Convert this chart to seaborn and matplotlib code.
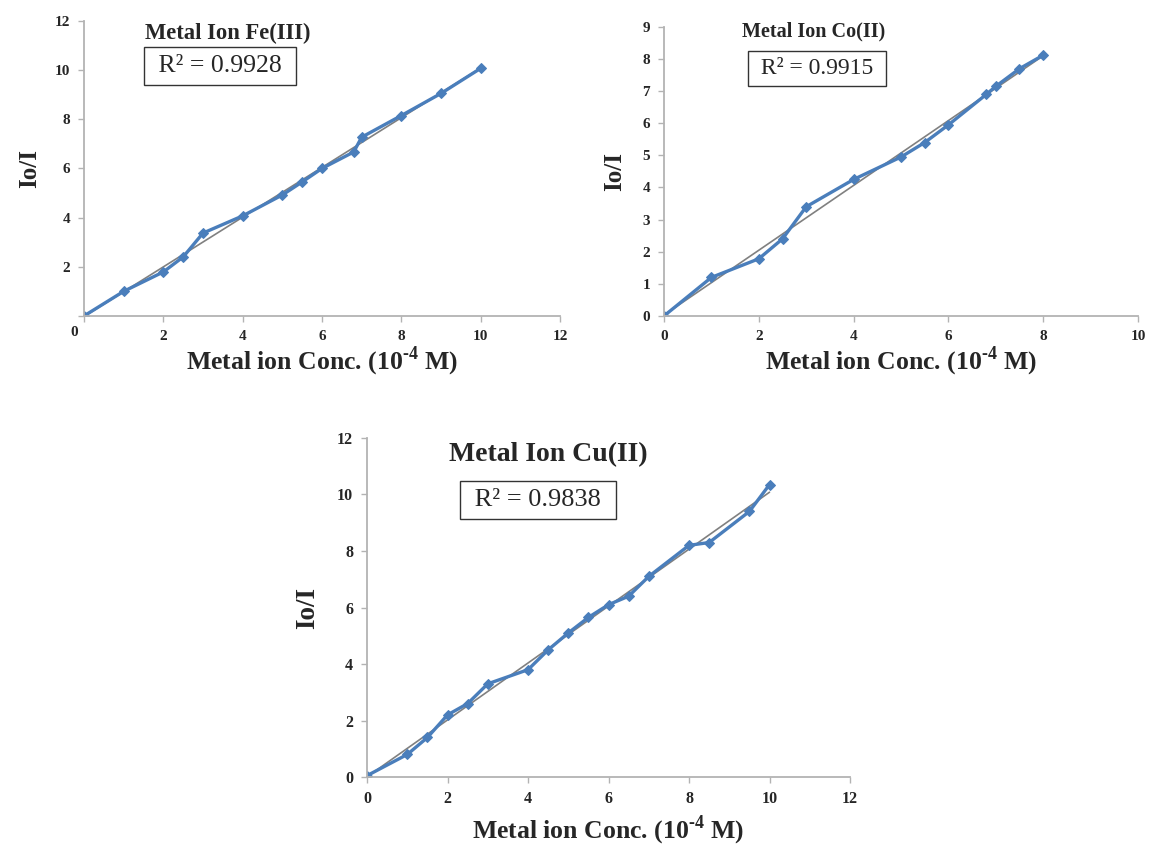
import numpy as np
import pandas as pd
import seaborn as sns
import matplotlib.pyplot as plt

# Fe(III)
fe_conc = [0, 1, 2, 2.5, 3, 4, 5, 5.5, 6, 6.8, 7, 8, 9, 10]
fe_ratio = [0, 1.0, 1.79, 2.4, 3.37, 4.07, 4.92, 5.45, 6.0, 6.67, 7.27, 8.15, 9.05, 10.07]
# Co(II)
co_conc = [0, 1, 2, 2.5, 3, 4, 5, 5.5, 6, 6.8, 7, 7.5, 8]
co_ratio = [0, 1.2, 1.78, 2.4, 3.4, 4.25, 4.95, 5.4, 5.95, 6.9, 7.15, 7.7, 8.12]
# Cu(II)
cu_conc = [0, 1, 1.5, 2, 2.5, 3, 4, 4.5, 5, 5.5, 6, 6.5, 7, 8, 8.5, 9.5, 10]
cu_ratio = [0.05, 0.8, 1.4, 2.2, 2.6, 3.3, 3.8, 4.5, 5.1, 5.65, 6.1, 6.4, 7.1, 8.2, 8.3, 9.4, 10.35]

titles = ["Metal Ion Fe(III)", "Metal Ion Co(II)", "Metal Ion Cu(II)"]
r2_labels = [" R\u00b2 = 0.9928 ", " R\u00b2 = 0.9915 ", " R\u00b2 = 0.9838 "]
x_label = "Metal ion Conc. (10$^{\\mathbf{\u2010 4}}$ M)"

sns.set_style("white")
plt.rcParams["font.family"] = ["Liberation Serif", "DejaVu Serif"]
plt.rcParams["mathtext.fontset"] = "custom"
plt.rcParams["mathtext.rm"] = "Liberation Serif"
plt.rcParams["mathtext.bf"] = "Liberation Serif:bold"

BLUE = "#4a7ebb"
AXIS_GRAY = "#b3b3b3"

fig = plt.figure(figsize=(11.51, 8.47), dpi=100)

panels = [
    dict(x=fe_conc, y=fe_ratio, rect=[0.073, 0.627, 0.4135, 0.3483], xlim=12, ylim=12,
         xstep=2, ystep=2, title_pos=(0.303, 0.959), box_pos=(0.286, 0.847), corner_zero=True,
         tick_fs=11, lab_fs=18.5, ylab_fs=18, title_fs=16.3, box_fs=18.5, xpad=1, ypad=10),
    dict(x=co_conc, y=co_ratio, rect=[0.5769, 0.627, 0.4118, 0.3412], xlim=10, ylim=9,
         xstep=2, ystep=1, title_pos=(0.315, 0.983), box_pos=(0.323, 0.855), corner_zero=False,
         tick_fs=11, lab_fs=18.5, ylab_fs=18, title_fs=14.5, box_fs=17, xpad=1, ypad=12),
    dict(x=cu_conc, y=cu_ratio, rect=[0.3189, 0.0826, 0.4196, 0.4003], xlim=12, ylim=12,
         xstep=2, ystep=2, title_pos=(0.375, 0.95), box_pos=(0.354, 0.817), corner_zero=False,
         tick_fs=11.5, lab_fs=18.5, ylab_fs=19.5, title_fs=20, box_fs=19, xpad=5, ypad=12),
]

for p, title, r2 in zip(panels, titles, r2_labels):
    ax = fig.add_axes(p["rect"])
    df = pd.DataFrame({"conc": p["x"], "ratio": p["y"]})

    # linear trendline
    sns.regplot(data=df, x="conc", y="ratio", ax=ax, scatter=False, ci=None,
                line_kws=dict(color="#808080", lw=1.2), truncate=True)
    # measured points
    sns.lineplot(data=df, x="conc", y="ratio", ax=ax, color=BLUE, lw=2.4,
                 marker="D", markersize=5, markeredgecolor=BLUE, sort=False)

    ax.set_xlim(0, p["xlim"])
    ax.set_ylim(0, p["ylim"])
    xt = np.arange(0, p["xlim"] + 0.1, p["xstep"])
    yt = np.arange(0, p["ylim"] + 0.1, p["ystep"])
    ax.set_xticks(xt)
    ax.set_yticks(yt)
    if p["corner_zero"]:
        ax.set_xticklabels([""] + [f"{v:g}" for v in xt[1:]])
        ax.set_yticklabels([""] + [f"{v:g}" for v in yt[1:]])
        ax.text(-0.012, -0.035, "0", transform=ax.transAxes, ha="right", va="top",
                fontsize=p["tick_fs"], fontweight="bold")
    else:
        ax.set_xticklabels([f"{v:g}" for v in xt])
        ax.set_yticklabels([f"{v:g}" for v in yt])

    for lab in ax.get_xticklabels() + ax.get_yticklabels():
        lab.set_fontweight("bold")
    ax.tick_params(axis="both", labelsize=p["tick_fs"], length=4, width=1,
                   color=AXIS_GRAY, direction="out", pad=6)
    ax.tick_params(axis="x", bottom=True)
    ax.tick_params(axis="y", left=True)

    sns.despine(ax=ax)
    for s in ["left", "bottom"]:
        ax.spines[s].set_color(AXIS_GRAY)
        ax.spines[s].set_linewidth(1.3)

    ax.set_xlabel(x_label, fontsize=p["lab_fs"], fontweight="bold", labelpad=p["xpad"])
    ax.set_ylabel("Io/I", fontsize=p["ylab_fs"], fontweight="bold", labelpad=p["ypad"])

    ax.text(*p["title_pos"], title, transform=ax.transAxes, ha="center", va="center",
            fontsize=p["title_fs"], fontweight="bold")
    ax.text(*p["box_pos"], r2, transform=ax.transAxes, ha="center", va="center",
            fontsize=p["box_fs"],
            bbox=dict(boxstyle="square,pad=0.3", fc="white", ec="#333333", lw=1))

fig.savefig("out.png", dpi=100)
